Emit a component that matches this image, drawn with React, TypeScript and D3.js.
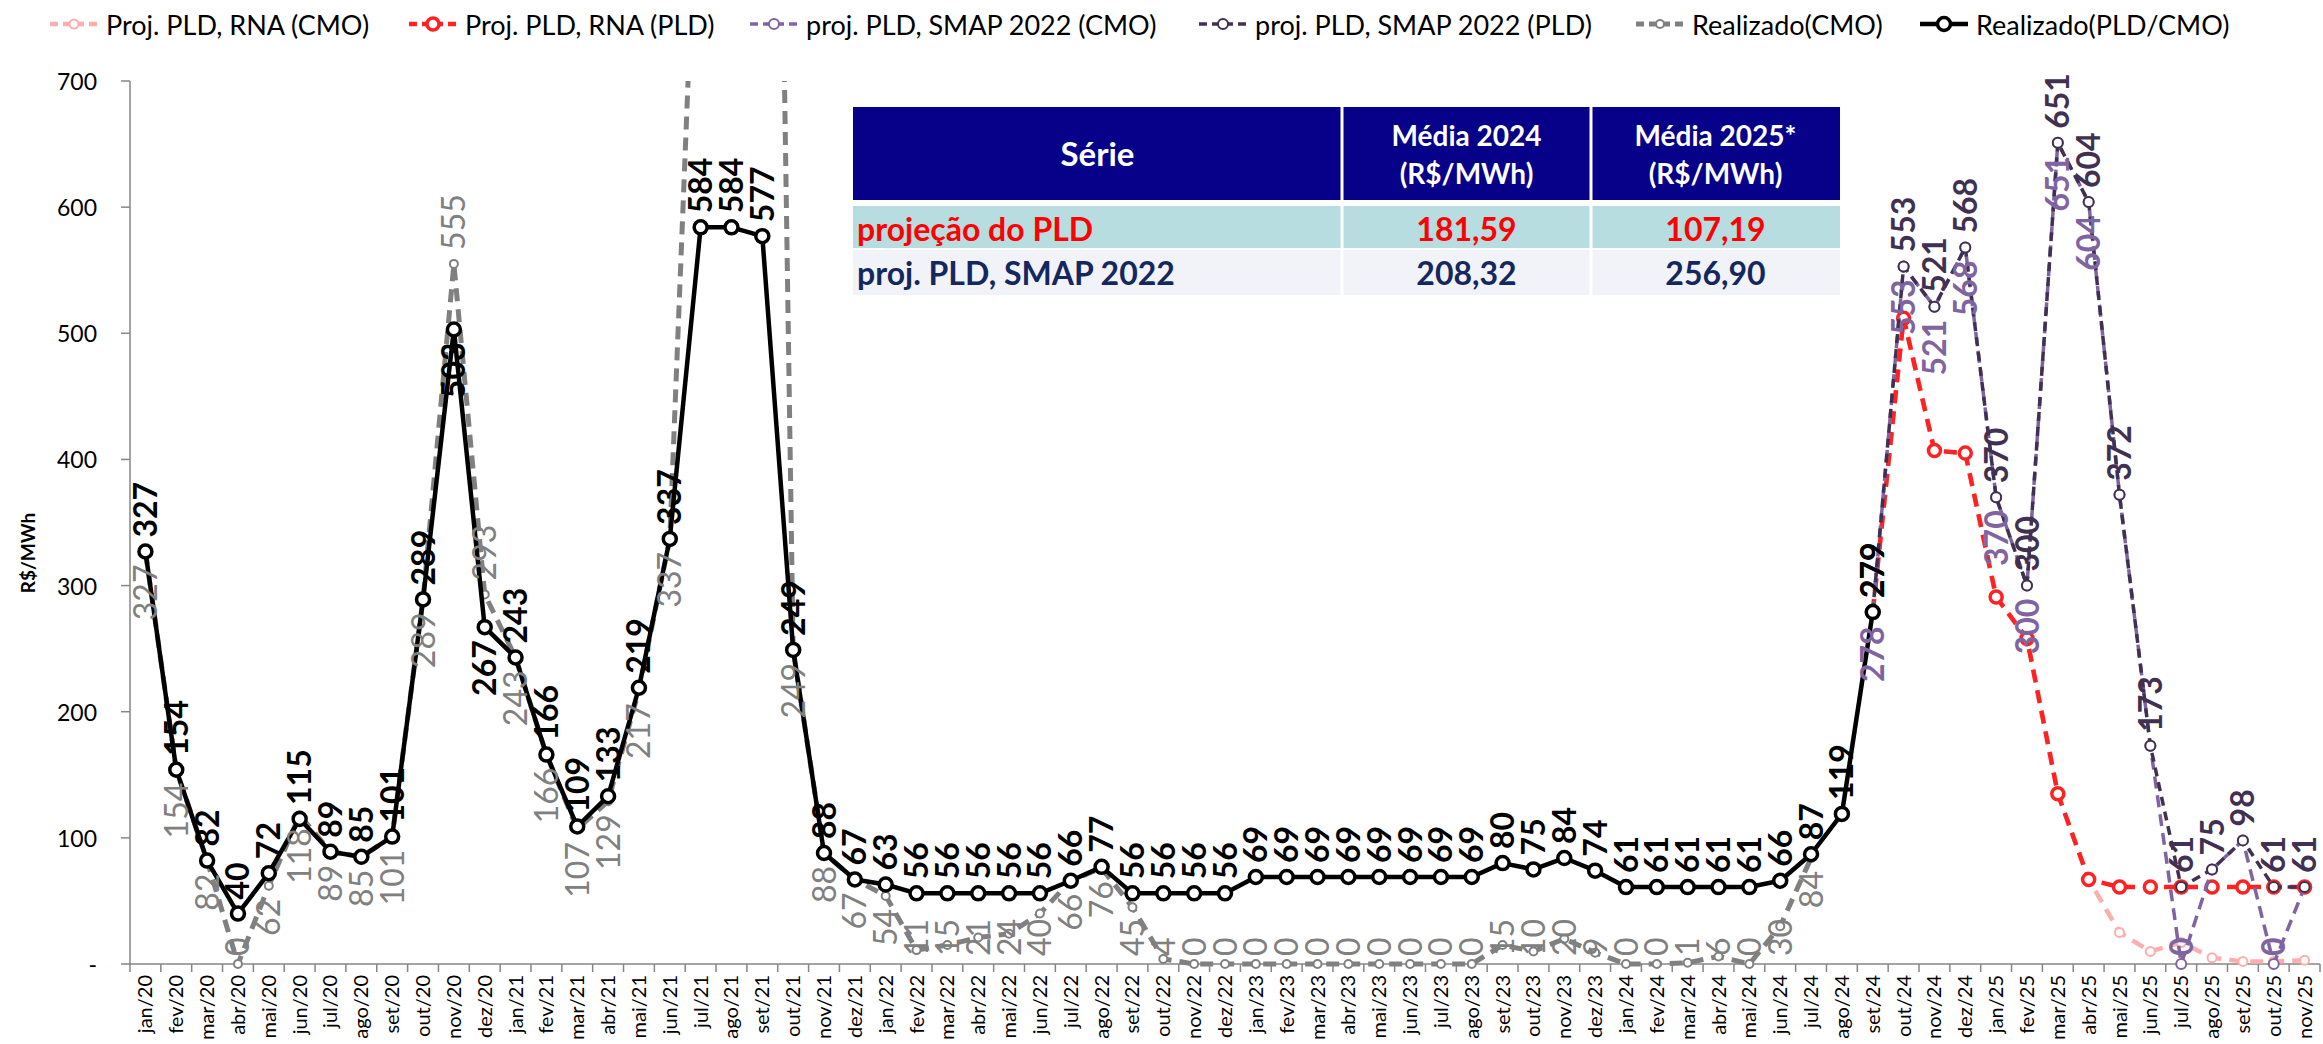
import React from 'react';
import * as d3 from 'd3';

// categories
const monthNames = ['jan', 'fev', 'mar', 'abr', 'mai', 'jun', 'jul', 'ago', 'set', 'out', 'nov', 'dez'];
const years = ['20', '21', '22', '23', '24', '25'];
const months = years.flatMap(yy => monthNames.map(m => `${m}/${yy}`)).slice(0, 71);

const yTicks = [0, 100, 200, 300, 400, 500, 600, 700];
const yTickLabels = ['-', '100', '200', '300', '400', '500', '600', '700'];

// Realizado(PLD/CMO), jan/20 .. set/24
const realizadoPLD = [
  327, 154, 82, 40, 72, 115, 89, 85, 101, 289, 503, 267,
  243, 166, 109, 133, 219, 337, 584, 584, 577, 249, 88, 67,
  63, 56, 56, 56, 56, 56, 66, 77, 56, 56, 56, 56,
  69, 69, 69, 69, 69, 69, 69, 69, 80, 75, 84, 74,
  61, 61, 61, 61, 61, 66, 87, 119, 279,
];

// Realizado(CMO), jan/20 .. jul/24 (jul-set/21 above the chart top)
const realizadoCMO = [
  327, 154, 82, 0, 62, 118, 89, 85, 101, 289, 555, 293,
  243, 166, 107, 129, 217, 337, 950, 1500, 1850, 249, 88, 67,
  54, 11, 15, 21, 24, 40, 66, 76, 45, 4, 0, 0,
  0, 0, 0, 0, 0, 0, 0, 0, 15, 10, 20, 9,
  0, 0, 1, 6, 0, 30, 84,
];

// projections, set/24 .. nov/25
const projStart = 'set/24';
const rnaPLD = [279, 512, 407, 405, 291, 258, 135, 67, 61, 61, 61, 61, 61, 61, 61];
const rnaCMO = [279, 512, 407, 405, 291, 258, 135, 67, 25, 10, 17, 5, 2, 2, 3];
const smapPLD = [279, 553, 521, 568, 370, 300, 651, 604, 372, 173, 61, 75, 98, 61, 61];
const smapCMO = [278, 553, 521, 568, 370, 300, 651, 604, 372, 173, 0, 75, 98, 0, 61];
const smapCMOLabels = [278, 553, 521, 568, 370, 300, 651, 604, null, null, 0, null, null, 0, null];

// table
const tableHeader = ['Série', 'Média 2024\n(R$/MWh)', 'Média 2025*\n(R$/MWh)'];
const tableRows = [
  ['projeção do PLD', '181,59', '107,19'],
  ['proj. PLD, SMAP 2022', '208,32', '256,90'],
];

const W = 2323;
const H = 1044;
const M = { left: 130, right: 2320, top: 81, bottom: 964 };
const FONT = "Lato, 'Open Sans', sans-serif";

const x = d3.scaleBand<string>().domain(months).range([M.left, M.right]);
const cx = (m: string) => (x(m) as number) + x.bandwidth() / 2;
const y = d3.scaleLinear().domain([0, 700]).range([M.bottom, M.top]);

type Pt = { m: string; v: number; label: number | null };

const pts = (start: string, values: number[], labels?: (number | null)[]): Pt[] => {
  const s = months.indexOf(start);
  return values.map((v, i) => ({ m: months[s + i], v, label: labels ? labels[i] : v }));
};

type Series = {
  name: string;
  data: Pt[];
  color: string;
  width: number;
  dash?: string;
  r: number;
  mw: number;
  labelColor?: string;
  labelWeight?: number;
  labelPos?: 'above' | 'below';
  swap?: string[];
};

const series: Series[] = [
  { name: 'Proj. PLD, RNA (CMO)', data: pts(projStart, rnaCMO), color: '#ffadad', width: 4.5, dash: '13 8', r: 4.5, mw: 2 },
  { name: 'Proj. PLD, RNA (PLD)', data: pts(projStart, rnaPLD), color: '#ff2222', width: 4.5, dash: '13 8', r: 6, mw: 3.5 },
  {
    name: 'proj. PLD, SMAP 2022 (CMO)', data: pts(projStart, smapCMO, smapCMOLabels), color: '#8064a2', width: 3.5, dash: '12 7',
    r: 5, mw: 2, labelColor: '#8064a2', labelWeight: 700, labelPos: 'below',
  },
  {
    name: 'proj. PLD, SMAP 2022 (PLD)', data: pts(projStart, smapPLD), color: '#403152', width: 3.5, dash: '9 6',
    r: 5, mw: 2, labelColor: '#403152', labelWeight: 700, labelPos: 'above',
  },
  {
    name: 'Realizado(CMO)', data: pts('jan/20', realizadoCMO), color: '#808080', width: 5, dash: '13 8',
    r: 4, mw: 2, labelColor: '#808080', labelWeight: 400, labelPos: 'below', swap: ['nov/20', 'dez/20'],
  },
  {
    name: 'Realizado(PLD/CMO)', data: pts('jan/20', realizadoPLD), color: '#000000', width: 4.5,
    r: 6.5, mw: 3.5, labelColor: '#000000', labelWeight: 700, labelPos: 'above', swap: ['nov/20', 'dez/20'],
  },
];

const legendX = [50, 409, 750, 1199, 1636, 1920];
const LABEL_FS = 32;

const line = d3.line<Pt>().x(d => cx(d.m)).y(d => y(d.v));

function Labels({ s }: { s: Series }) {
  if (!s.labelPos) return null;
  return (
    <g>
      {s.data.map((d, i) => {
        if (d.label === null || d.v > 700) return null;
        const txt = String(d.label);
        const len = txt.length * 0.58 * LABEL_FS;
        let pos = s.labelPos;
        if (s.swap && s.swap.includes(d.m)) pos = pos === 'above' ? 'below' : 'above';
        const py = y(d.v);
        let base: number;
        if (pos === 'above') {
          base = py - 14;
        } else {
          // keep the label inside the plot, as the spreadsheet does
          base = Math.min(py + 13 + len, M.bottom - 8);
        }
        return (
          <text
            key={i}
            transform={`translate(${cx(d.m)},${base}) rotate(-90)`}
            dy="0.36em"
            fontFamily={FONT}
            fontSize={LABEL_FS}
            fontWeight={s.labelWeight}
            fill={s.labelColor}
          >
            {txt}
          </text>
        );
      })}
    </g>
  );
}

const App: React.FC = () => {
  const cols = [853, 1342, 1591, 1840];
  return (
    <svg width={W} height={H} style={{ position: 'absolute', left: 0, top: 0, background: '#fff' }}>
      <defs>
        <clipPath id="plot">
          <rect x={M.left - 20} y={M.top} width={M.right - M.left + 40} height={H - M.top} />
        </clipPath>
      </defs>

      {/* legend */}
      <g fontFamily={FONT} fontSize={27}>
        {series.map((s, i) => (
          <g key={s.name} transform={`translate(${legendX[i]},24)`}>
            <line x1={0} x2={48} y1={0} y2={0} stroke={s.color} strokeWidth={s.width} strokeDasharray={s.dash ? '8 5' : undefined} />
            <circle cx={24} cy={0} r={s.r} fill="#fff" stroke={s.color} strokeWidth={s.mw} />
            <text x={56} y={0} dominantBaseline="central" fill="#000">{s.name}</text>
          </g>
        ))}
      </g>

      {/* y axis */}
      <g fontFamily={FONT} fontSize={23}>
        <line x1={M.left} x2={M.left} y1={M.top} y2={M.bottom} stroke="#868686" strokeWidth={1.5} />
        {yTicks.map((t, i) => (
          <g key={t}>
            <line x1={M.left - 9} x2={M.left} y1={y(t)} y2={y(t)} stroke="#868686" strokeWidth={1.5} />
            <text x={M.left - 33} y={y(t)} textAnchor="end" dominantBaseline="central" fill="#000">{yTickLabels[i]}</text>
          </g>
        ))}
        <text transform={`translate(27,553) rotate(-90)`} textAnchor="middle" dominantBaseline="central" fontWeight={700} fontSize={19}>R$/MWh</text>
      </g>

      {/* x axis */}
      <g fontFamily={FONT} fontSize={20}>
        <line x1={M.left} x2={M.right} y1={M.bottom} y2={M.bottom} stroke="#868686" strokeWidth={1.5} />
        {months.map(m => (
          <line key={'t' + m} x1={x(m)!} x2={x(m)!} y1={M.bottom} y2={M.bottom + 8} stroke="#868686" strokeWidth={1.5} />
        ))}
        <line x1={M.right} x2={M.right} y1={M.bottom} y2={M.bottom + 8} stroke="#868686" strokeWidth={1.5} />
        {months.map(m => (
          <text key={m} transform={`translate(${cx(m)},${M.bottom + 11}) rotate(-90)`} textAnchor="end" dy="0.35em" fill="#000">{m}</text>
        ))}
      </g>

      {/* series */}
      <g clipPath="url(#plot)">
        {series.map(s => (
          <g key={s.name}>
            <path d={line(s.data) || ''} fill="none" stroke={s.color} strokeWidth={s.width} strokeDasharray={s.dash} strokeLinejoin="round" />
            {s.data.map((d, i) => (
              <circle key={i} cx={cx(d.m)} cy={y(d.v)} r={s.r} fill="#fff" stroke={s.color} strokeWidth={s.mw} />
            ))}
          </g>
        ))}
      </g>
      {series.map(s => <Labels key={'l' + s.name} s={s} />)}

      {/* table */}
      <g fontFamily={FONT} fontWeight={700}>
        <rect x={cols[0]} y={107} width={cols[3] - cols[0]} height={93} fill="#070089" />
        <rect x={cols[0]} y={206} width={cols[3] - cols[0]} height={43} fill="#b7dde0" />
        <rect x={cols[0]} y={249} width={cols[3] - cols[0]} height={46} fill="#f2f3f8" />
        <line x1={cols[0]} x2={cols[3]} y1={249} y2={249} stroke="#fff" strokeWidth={2} />
        {[cols[1], cols[2]].map(c => (
          <line key={c} x1={c} x2={c} y1={107} y2={295} stroke="#fff" strokeWidth={3} />
        ))}
        {tableHeader.map((h, i) => {
          const mid = (cols[i] + cols[i + 1]) / 2;
          const parts = h.split('\n');
          if (parts.length === 1) {
            return <text key={h} x={mid} y={153} textAnchor="middle" dominantBaseline="central" fill="#fff" fontSize={33}>{h}</text>;
          }
          return parts.map((p, j) => (
            <text key={h + j} x={mid} y={135 + j * 38} textAnchor="middle" dominantBaseline="central" fill="#fff" fontSize={28}>{p}</text>
          ));
        })}
        {tableRows.map((row, r) => {
          const ty = r === 0 ? 228 : 272;
          const col = r === 0 ? '#ff0000' : '#14285f';
          return row.map((cell, c) => (
            <text
              key={r + '-' + c}
              x={c === 0 ? cols[0] + 4 : (cols[c] + cols[c + 1]) / 2}
              y={ty}
              textAnchor={c === 0 ? 'start' : 'middle'}
              dominantBaseline="central"
              fill={col}
              fontSize={32}
            >
              {cell}
            </text>
          ));
        })}
      </g>
    </svg>
  );
};

export default App;
